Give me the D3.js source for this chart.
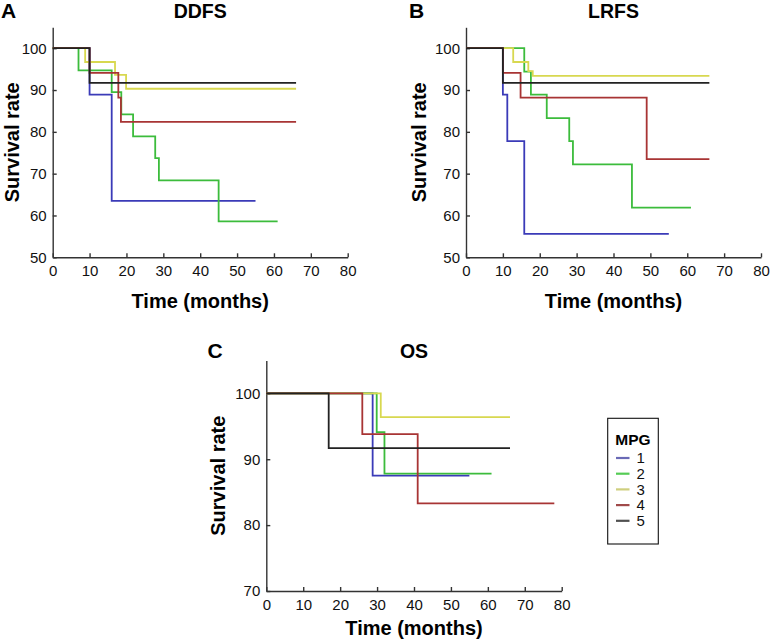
<!DOCTYPE html>
<html><head><meta charset="utf-8">
<script src="https://cdn.jsdelivr.net/npm/d3@7"></script>
<style>
body{margin:0;background:#fff;}
svg{display:block;font-family:"Liberation Sans",Arial,sans-serif;}
</style></head>
<body>
<svg id="c" width="770" height="642"></svg>
<script>
// ---- data ----
const groups = ["1","2","3","4","5"];
const xTicks = [0,10,20,30,40,50,60,70,80];
const yTicksAB = [50,60,70,80,90,100];
const yTicksC = [70,80,90,100];

// DDFS (time in months, survival %)
const ddfs1 = [[0,100],[10,88.9],[16,63.5],[55,63.5]];
const ddfs2 = [[0,100],[7,94.7],[16,89.5],[18.6,84.2],[21.8,78.9],[27.8,73.7],[28.8,68.4],[45,58.6],[61,58.6]];
const ddfs3 = [[0,100],[8.8,96.7],[16.9,93.6],[19.9,90.3],[66,90.3]];
const ddfs4 = [[0,100],[10,94.1],[17.8,88.2],[18.5,82.4],[66,82.4]];
const ddfs5 = [[0,100],[10,91.7],[66,91.7]];

// LRFS
const lrfs1 = [[0,100],[10,88.9],[11.2,77.8],[15.8,55.6],[55,55.6]];
const lrfs2 = [[0,100],[15.8,94.4],[17.6,88.9],[21.9,83.3],[28,77.8],[29,72.2],[45,61.9],[61,61.9]];
const lrfs3 = [[0,100],[12.8,96.7],[16.9,94.5],[18.1,93.4],[66,93.4]];
const lrfs4 = [[0,100],[10,94.1],[14.8,88.2],[49,73.5],[66,73.5]];
const lrfs5 = [[0,100],[10,91.7],[66,91.7]];

// OS
const os1 = [[0,100],[28.8,87.5],[55,87.5]];
const os2 = [[0,100],[29.9,94.1],[32,87.8],[61,87.8]];
const os3 = [[0,100],[31,96.4],[66,96.4]];
const os4 = [[0,100],[26,93.8],[41,83.3],[78,83.3]];
const os5 = [[0,100],[16.9,91.7],[66,91.7]];

// ---- styles ----
const lineColors = ["#3b3bb8","#3cbc3c","#d8d850","#a83434","#222222"];
const legendColors = ["#6a6ab6","#55cc55","#cfcf7e","#a04a4a","#505050"];

const svg = d3.select("#c");

function panel(cfg){
  const x = d3.scaleLinear().domain([0,80]).range([cfg.x0,cfg.x1]);
  const y = d3.scaleLinear().domain([cfg.ymin,105]).range([cfg.yb,cfg.yt]);
  const g = svg.append("g");

  const xa = d3.axisBottom(x).tickValues(xTicks).tickSizeInner(-4).tickSizeOuter(0).tickPadding(8);
  const ya = d3.axisLeft(y).tickValues(cfg.yTicks).tickSizeInner(-4).tickSizeOuter(0).tickPadding(6);

  const gx = g.append("g").attr("transform",`translate(0,${cfg.yb})`).call(xa);
  const gy = g.append("g").attr("transform",`translate(${cfg.x0},0)`).call(ya);
  [gx,gy].forEach(a=>{
    a.selectAll("path,line").attr("stroke","#333").attr("stroke-width",1.4);
    a.selectAll("text").attr("fill","#111").style("font-size","15px").style("font-family","'Liberation Sans',Arial,sans-serif");
  });

  const line = d3.line().x(d=>x(d[0])).y(d=>y(d[1])).curve(d3.curveStepAfter);
  cfg.series.forEach((s,i)=>{
    g.append("path").datum(s).attr("d",line)
      .attr("fill","none").attr("stroke",lineColors[i]).attr("stroke-width",1.8);
  });

  const cx = (cfg.x0+cfg.x1)/2;
  g.append("text").attr("x",cx).attr("y",cfg.titleY).attr("text-anchor","middle")
    .style("font-weight","bold").style("font-size","19.5px").text(cfg.title);
  g.append("text").attr("x",cfg.letterX).attr("y",cfg.titleY).attr("text-anchor","start")
    .style("font-weight","bold").style("font-size","21px").text(cfg.letter);
  g.append("text").attr("x",cx).attr("y",cfg.xTitleY).attr("text-anchor","middle")
    .style("font-weight","bold").style("font-size","20px").text("Time (months)");
  const cy = (cfg.yb+cfg.yt)/2;
  g.append("text").attr("transform",`translate(${cfg.yTitleX},${cy}) rotate(-90)`)
    .attr("text-anchor","middle").attr("dy","0.35em")
    .style("font-weight","bold").style("font-size","20px").text("Survival rate");
}

panel({x0:52.7,x1:347.7,yb:257.3,yt:27.3,ymin:50,yTicks:yTicksAB,
  series:[ddfs1,ddfs2,ddfs3,ddfs4,ddfs5],title:"DDFS",letter:"A",letterX:1,titleY:18.3,
  xTitleY:307.5,yTitleX:12});
panel({x0:466,x1:761,yb:257.3,yt:27.3,ymin:50,yTicks:yTicksAB,
  series:[lrfs1,lrfs2,lrfs3,lrfs4,lrfs5],title:"LRFS",letter:"B",letterX:409,titleY:18.3,
  xTitleY:307.5,yTitleX:418.5});
panel({x0:266.3,x1:561.7,yb:591,yt:360.4,ymin:70,yTicks:yTicksC,
  series:[os1,os2,os3,os4,os5],title:"OS",letter:"C",letterX:207.5,titleY:358,
  xTitleY:635,yTitleX:217.5});

// legend
const lg = svg.append("g");
lg.append("rect").attr("x",607.7).attr("y",418.3).attr("width",50.6).attr("height",125.7)
  .attr("fill","#fff").attr("stroke","#111").attr("stroke-width",1.1);
lg.append("text").attr("x",633).attr("y",445).attr("text-anchor","middle")
  .style("font-weight","bold").style("font-size","15.5px").text("MPG");
const ly = d3.scalePoint().domain(groups).range([463.3,526.1]);
groups.forEach((gname,i)=>{
  lg.append("line").attr("x1",616).attr("x2",629.5)
    .attr("y1",ly(gname)-5.3).attr("y2",ly(gname)-5.3)
    .attr("stroke",legendColors[i]).attr("stroke-width",2.2);
  lg.append("text").attr("x",636.5).attr("y",ly(gname))
    .style("font-size","15px").attr("fill","#111").text(gname);
});
</script>
</body></html>
